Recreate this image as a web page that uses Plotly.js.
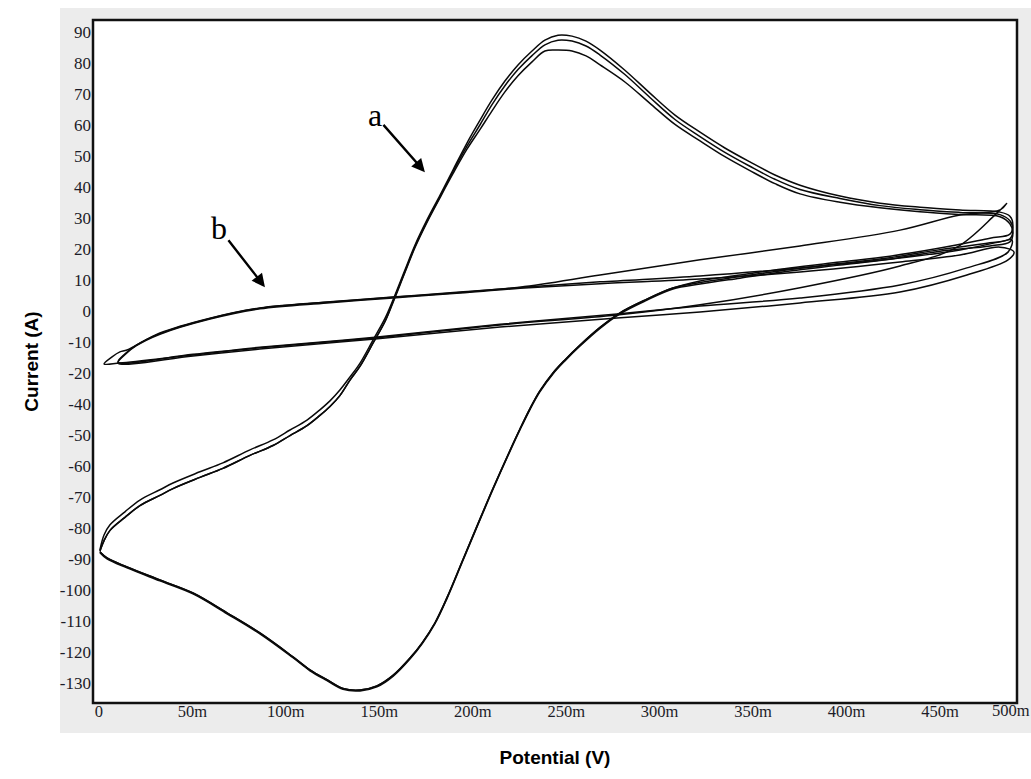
<!DOCTYPE html>
<html>
<head>
<meta charset="utf-8">
<script src="https://cdn.plot.ly/plotly-3.0.1.min.js"></script>
<style>html,body{margin:0;padding:0;background:#fff;}#chart{width:1031px;height:779px;}</style>
</head>
<body>
<div id="chart"></div>
<script>
// Potential (mV) for the large CV cycles (curve a)
const potA = [0.5,2.7,5.9,13.9,21.9,32.6,39.6,54.0,66.3,80.8,
  93.1,102.2,111.3,118.2,123.6,128.9,134.3,139.7,146.6,153.1,
  157.3,163.7,169.1,175.5,182.5,189.4,196.9,203.9,210.3,217.2,
  224.2,231.7,238.6,245.6,253.1,260.6,268.1,281.4,294.8,308.2,
  321.6,334.9,348.3,361.7,375.1,396.5,417.9,439.3,460.7,482.1,
  487.4,489.0,487.4,476.7,450.0,423.2,396.5,369.7,343.0,321.6,
  307.1,292.1,278.8,268.1,257.4,249.3,242.9,235.9,230.6,225.3,
  219.9,210.8,202.2,194.2,186.2,179.8,173.0,166.4,157.3,148.7,
  139.7,130.6,122.0,112.9,103.8,86.1,68.5,50.3,32.6,15.0,
  4.3,0.5];
const curA1 = [-77.1,-72.3,-69.0,-64.8,-61.0,-57.7,-55.5,-51.9,-49.0,-44.8,
  -41.6,-38.4,-35.2,-31.9,-29.0,-25.5,-21.3,-16.8,-9.4,-2.3,
  3.5,13.2,21.3,29.4,37.4,45.5,54.2,61.6,68.1,74.2,
  79.4,83.9,87.4,89.0,88.7,87.1,84.2,77.7,70.3,63.2,
  57.7,52.6,48.1,43.9,40.6,37.1,34.8,33.5,32.6,31.9,
  30.6,27.7,24.8,23.5,20.3,17.7,15.8,13.9,11.6,9.7,
  7.4,3.5,-0.6,-5.3,-11.0,-15.8,-20.0,-25.8,-31.5,-38.0,
  -45.0,-57.3,-69.5,-81.0,-92.5,-100.6,-107.0,-112.0,-117.6,-121.0,
  -122.3,-121.8,-119.0,-115.8,-111.6,-103.9,-97.4,-91.0,-86.8,-82.6,
  -79.7,-77.7];
const curA2 = [-77.4,-74.1,-70.8,-66.6,-62.8,-59.5,-57.3,-53.7,-50.8,-46.6,
  -43.4,-40.2,-37.0,-33.7,-30.8,-27.3,-22.3,-17.8,-10.4,-3.3,
  3.0,12.7,20.8,28.9,36.9,45.0,53.2,60.1,66.6,72.7,
  77.9,82.4,85.9,87.4,87.1,85.5,82.6,76.3,68.9,61.8,
  56.3,51.2,46.7,42.5,39.2,36.3,34.0,32.7,31.8,31.1,
  29.1,26.2,23.3,22.0,19.8,17.2,15.3,13.4,11.1,9.2,
  7.4,3.5,-0.6,-5.3,-11.0,-15.8,-20.0,-25.8,-31.5,-38.0,
  -45.0,-57.3,-69.5,-81.0,-92.5,-100.6,-107.0,-112.0,-117.6,-121.0,
  -122.3,-121.8,-119.0,-115.8,-111.6,-103.9,-97.4,-91.0,-86.8,-82.6,
  -79.7,-77.7];
const curA3 = [-77.6,-74.1,-70.8,-66.6,-62.8,-59.5,-57.3,-53.7,-50.8,-46.6,
  -43.4,-40.2,-37.0,-33.7,-30.8,-27.3,-22.3,-17.8,-10.4,-3.3,
  2.7,12.4,20.5,28.6,36.6,44.3,52.2,58.6,64.6,70.7,
  75.9,80.4,83.9,84.2,83.9,82.3,79.4,73.9,67.0,60.2,
  54.9,49.8,45.3,41.1,37.8,35.1,33.3,32.0,31.1,30.4,
  28.1,25.2,22.3,21.0,19.3,16.7,14.8,12.9,10.6,8.7,
  7.1,3.2,-0.9,-5.6,-11.3,-16.1,-20.3,-26.1,-31.8,-38.3,
  -45.3,-57.6,-69.8,-81.3,-92.8,-100.9,-107.3,-112.3,-117.9,-121.3,
  -122.6,-122.1,-119.3,-116.1,-111.9,-104.2,-97.7,-91.3,-87.1,-82.9,
  -80.0,-78.0];

// Thin background loops (curve b)
const potB1 = [2.7,7,11.2,15.0,32.6,59.4,86.1,122.0,157.3,193.2,225.3,268.1,321.6,375.1,428.6,460.7,482.1,485.8,479.4,459.1,428.6,375.1,321.6,277.2,214.6,147.7,86.1,50.3,11.2,2.7];
const curB1 = [-17.1,-14.8,-13.2,-12.6,-7.1,-2.3,1.0,2.9,4.5,6.1,7.7,11.6,16.5,21.0,26.1,31.0,32.6,34.8,31.0,20.6,14.5,7.5,2.0,-1.3,-4.5,-8.7,-11.9,-14.2,-16.8,-17.1];
const potB2 = [10.2,14,20,32.6,59.4,86.1,122.0,157.3,193.2,225.3,268.1,321.6,375.1,428.6,460.7,482.1,488.5,486.4,464.4,428.6,375.1,321.6,277.2,214.6,147.7,86.1,50.3,10.2];
const curB2 = [-16.5,-13.8,-11.0,-7.3,-2.4,0.9,2.8,4.4,6.0,7.6,9.4,11.3,13.9,17.1,19.7,22.3,22.9,19.0,13.9,8.4,4.2,1.6,-1.0,-4.3,-8.5,-11.7,-14.0,-16.5];
const potB3 = [10.2,14,20,32.6,59.4,86.1,122.0,157.3,193.2,225.3,268.1,321.6,375.1,428.6,460.7,482.1,489.6,486.4,464.4,428.6,375.1,321.6,277.2,214.6,147.7,86.1,50.3,10.2];
const curB3 = [-16.8,-14.0,-11.2,-7.5,-2.6,0.7,2.6,4.2,5.8,7.3,8.8,10.3,12.6,15.8,18.1,20.6,19.0,16.5,11.6,6.1,2.6,-0.3,-2.3,-5.2,-9.0,-12.3,-14.5,-16.8];

// Tick labels
const xTickVals = [0,50,100,150,200,250,300,350,400,450];
const xTickText = ['0','50m','100m','150m','200m','250m','300m','350m','400m','450m'];
const xLastLabel = '500m';
const yTickVals = [90,80,70,60,50,40,30,20,10,0,-10,-20,-30,-40,-50,-60,-70,-80,-90,-100,-110,-120];
const yTickText = ['90','80','70','60','50','40','30','20','10','0','-10','-20','-40','-50','-60','-70','-80','-90','-100','-110','-120','-130'];

const lineStyle = {color:'#0a0a0a', width:1.5, shape:'spline', smoothing:1.0};
function tr(x, y){ return {x:x, y:y, type:'scatter', mode:'lines', line:lineStyle, showlegend:false, hoverinfo:'skip'}; }

const data = [tr(potA,curA1), tr(potA,curA2), tr(potA,curA3), tr(potB1,curB1), tr(potB2,curB2), tr(potB3,curB3)];

const xTickFont = {family:'Liberation Serif, Times New Roman, serif', size:16.5, color:'#1c1c28'};
const yTickFont = {family:'Liberation Serif, Times New Roman, serif', size:17, color:'#1c1c28'};
const titleFont = {family:'Liberation Sans, Arial, sans-serif', size:19, color:'#000', weight:'bold'};

const layout = {
  width:1031, height:779,
  margin:{l:93, r:14, t:20, b:76},
  paper_bgcolor:'#ffffff',
  plot_bgcolor:'rgba(0,0,0,0)',
  xaxis:{range:[-3.2,491.2], tickvals:xTickVals, ticktext:xTickText, showgrid:false, zeroline:false,
    showline:false, ticks:'', tickfont:xTickFont, ticklabelstandoff:-4,
    title:{text:'Potential (V)', font:titleFont, standoff:31}},
  yaxis:{range:[-126.5,93.9], tickvals:yTickVals, ticktext:yTickText, showgrid:false, zeroline:false,
    showline:false, ticks:'', tickfont:yTickFont, ticklabelstandoff:1,
    title:{text:'Current (A)', font:titleFont, standoff:16}},
  shapes:[
    {type:'rect', xref:'paper', yref:'paper', x0:-0.0357, x1:1.0152, y0:-0.0439, y1:1.0176,
     fillcolor:'#ececec', line:{width:0}, layer:'below'},
    {type:'rect', xref:'paper', yref:'paper', x0:0, x1:1, y0:0, y1:1,
     fillcolor:'#ffffff', line:{color:'#111', width:2.5}, layer:'below'}
  ],
  annotations:[
    {x:174.4, y:44.8, xref:'x', yref:'y', text:'a', showarrow:true, ax:-50, ay:-57,
     arrowhead:2, arrowsize:1.1, arrowwidth:2.4, arrowcolor:'#000',
     font:{family:'Liberation Serif, serif', size:32, color:'#000'}},
    {x:88.8, y:7.7, xref:'x', yref:'y', text:'b', showarrow:true, ax:-46, ay:-59,
     arrowhead:2, arrowsize:1.1, arrowwidth:2.4, arrowcolor:'#000',
     font:{family:'Liberation Serif, serif', size:32, color:'#000'}},
    {x:0.993, y:-0.0117, xref:'paper', yref:'paper', text:xLastLabel, showarrow:false,
     xanchor:'center', yanchor:'middle', font:xTickFont}
  ]
};

Plotly.newPlot('chart', data, layout, {displayModeBar:false, staticPlot:true});
</script>
</body>
</html>
